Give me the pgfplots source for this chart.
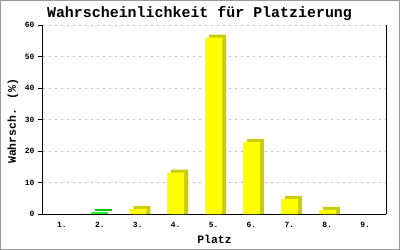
\documentclass[border=0pt]{standalone}
\usepackage{pgfplots}
\pgfplotsset{compat=1.18}
\usepackage{fontspec}
\setmainfont{Liberation Mono}
\definecolor{yfront}{HTML}{FFFF00}
\definecolor{yside}{HTML}{CCCC00}
\definecolor{gfront}{HTML}{22EE22}
\definecolor{gside}{HTML}{00C000}
\definecolor{gridc}{HTML}{C0C0C0}
\begin{document}
\begin{tikzpicture}
\begin{axis}[
  at={(0,0)}, anchor=south west,
  scale only axis, width=343bp, height=189bp,
  xmin=0.5, xmax=9.55, ymin=0, ymax=60,
  axis x line*=bottom, axis y line*=box,
  ytick pos=left,
  xtick={1,...,9},
  xticklabels={1.,2.,3.,4.,5.,6.,7.,8.,9.},
  ytick={0,10,...,60},
  xtick style={draw=none},
  tick align=outside, major tick length=5bp,
  ytick style={black, line width=0.8bp},
  axis line style={black, line width=1bp},
  ymajorgrids, grid style={gridc, dash pattern=on 2bp off 4bp, line width=0.8bp},
  /pgf/number format/assume math mode=true,
  ticklabel style={font=\fontsize{8}{9}\selectfont\bfseries},
  xlabel={Platz}, ylabel={Wahrsch. (\%)},
  label style={font=\fontsize{11.5}{13}\selectfont\bfseries},
  xlabel style={at={(axis description cs:0.5,0)}, anchor=center, yshift=-25bp},
  ylabel style={at={(axis description cs:0,0.49)}, anchor=center, yshift=30bp},
  title={Wahrscheinlichkeit für Platzierung},
  title style={font=\fontsize{15}{16}\selectfont\bfseries, at={(axis description cs:0.5,1)}, anchor=base, yshift=2bp, xshift=-15bp},
  clip=false,
]
% back (side/top) faces
\addplot[ybar, bar width=17bp, fill=yside, draw=none, xshift=4bp, forget plot]
  coordinates {(3,1.6) (4,13.1) (5,56.0) (6,22.9) (7,4.8) (8,1.3)};
\addplot[ybar, bar width=17bp, fill=yside, draw=none, xshift=4bp, yshift=3bp, forget plot]
  coordinates {(3,1.6) (4,13.1) (5,56.0) (6,22.9) (7,4.8) (8,1.3)};
\addplot[ybar, bar width=17bp, fill=gside, draw=none, xshift=4bp, yshift=3bp, forget plot]
  coordinates {(2,0.5)};
% front faces
\addplot[ybar, bar width=17bp, fill=yfront, draw=none, forget plot]
  coordinates {(3,1.6) (4,13.1) (5,56.0) (6,22.9) (7,4.8) (8,1.3)};
\addplot[ybar, bar width=17bp, fill=gfront, draw=none, forget plot]
  coordinates {(2,0.5)};
\end{axis}
\pgfresetboundingbox
\path[use as bounding box] (-43bp,-36bp) rectangle (357bp,214bp);
\draw[color=black!40, line width=1.5bp] (-42.25bp,-35.25bp) rectangle (356.25bp,213.25bp);
\end{tikzpicture}
\end{document}
